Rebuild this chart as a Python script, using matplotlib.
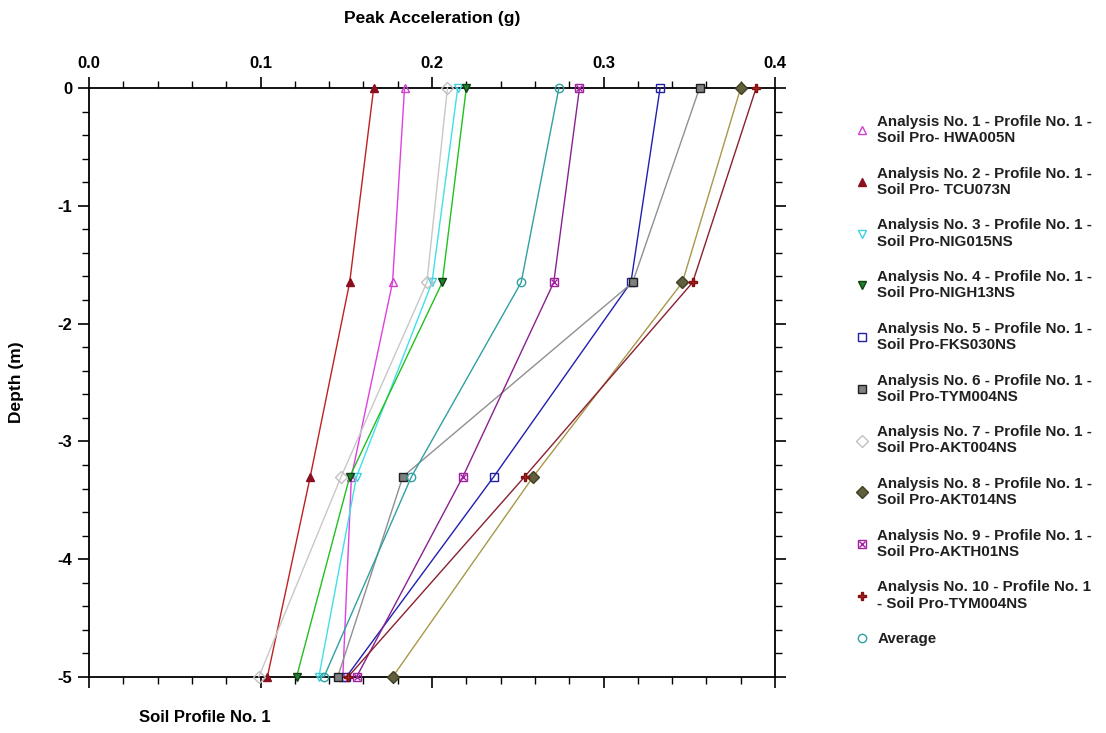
import numpy as np
import matplotlib
matplotlib.use("Agg")
import matplotlib.pyplot as plt
from matplotlib.ticker import MultipleLocator
from matplotlib.legend_handler import HandlerTuple

plt.rcParams['font.family'] = ['Liberation Sans', 'DejaVu Sans']

# Depth of each sublayer top (m)
depth = [0.0, -1.65, -3.3, -5.0]

# Peak acceleration (g) per analysis, one value per depth
pga_a1 = [0.184, 0.177, 0.153, 0.148]
pga_a2 = [0.166, 0.152, 0.129, 0.104]
pga_a3 = [0.215, 0.200, 0.156, 0.134]
pga_a4 = [0.220, 0.206, 0.152, 0.121]
pga_a5 = [0.333, 0.316, 0.236, 0.150]
pga_a6 = [0.356, 0.317, 0.183, 0.145]
pga_a7 = [0.209, 0.197, 0.147, 0.099]
pga_a8 = [0.380, 0.346, 0.259, 0.177]
pga_a9 = [0.286, 0.271, 0.218, 0.156]
pga_a10 = [0.389, 0.352, 0.254, 0.151]
pga_avg = [0.274, 0.252, 0.188, 0.137]

labels = [
    "Analysis No. 1 - Profile No. 1 -\nSoil Pro- HWA005N",
    "Analysis No. 2 - Profile No. 1 -\nSoil Pro- TCU073N",
    "Analysis No. 3 - Profile No. 1 -\nSoil Pro-NIG015NS",
    "Analysis No. 4 - Profile No. 1 -\nSoil Pro-NIGH13NS",
    "Analysis No. 5 - Profile No. 1 -\nSoil Pro-FKS030NS",
    "Analysis No. 6 - Profile No. 1 -\nSoil Pro-TYM004NS",
    "Analysis No. 7 - Profile No. 1 -\nSoil Pro-AKT004NS",
    "Analysis No. 8 - Profile No. 1 -\nSoil Pro-AKT014NS",
    "Analysis No. 9 - Profile No. 1 -\nSoil Pro-AKTH01NS",
    "Analysis No. 10 - Profile No. 1\n- Soil Pro-TYM004NS",
    "Average",
]

series = [pga_a1, pga_a2, pga_a3, pga_a4, pga_a5, pga_a6,
          pga_a7, pga_a8, pga_a9, pga_a10, pga_avg]

# (line colour, marker, face colour, edge colour)
styles = [
    ("#e040e0", "^", "none", "#d040d0"),
    ("#c02020", "^", "#8a1020", "#8a1020"),
    ("#40e0e8", "v", "none", "#40d0e0"),
    ("#20c020", "v", "#208030", "#104010"),
    ("#2020b0", "s", "none", "#2020a0"),
    ("#909090", "s", "#808080", "#202020"),
    ("#c8c8c8", "D", "none", "#c0c0c0"),
    ("#a89848", "D", "#606040", "#404020"),
    ("#8a2090", "s", "none", "#a020a0"),
    ("#8a2030", "P", "#b02020", "#801010"),
    ("#30a0a0", "o", "none", "#30a0a0"),
]

fig = plt.figure(figsize=(11.06, 7.33), dpi=100)
ax = fig.add_axes([89 / 1106, 1 - 677 / 733, 686 / 1106, 589 / 733])

handles = []
for i, (vals, (lc, mk, fc, ec)) in enumerate(zip(series, styles)):
    h, = ax.plot(vals, depth, color=lc, linewidth=1.0, marker=mk, markersize=6,
                 markerfacecolor=fc, markeredgecolor=ec, markeredgewidth=1.0,
                 clip_on=False, zorder=3)
    if i == 8:
        # cross inside the square marker
        hx, = ax.plot(vals, depth, linestyle="none", marker="x", markersize=4.5,
                      markeredgecolor=ec, markeredgewidth=1.0, clip_on=False, zorder=4)
        handles.append((h, hx))
    else:
        handles.append(h)

ax.set_xlim(0.0, 0.4)
ax.set_ylim(-5, 0)
ax.xaxis.set_major_locator(MultipleLocator(0.1))
ax.xaxis.set_minor_locator(MultipleLocator(0.02))
ax.yaxis.set_major_locator(MultipleLocator(1))
ax.yaxis.set_minor_locator(MultipleLocator(0.2))
ax.xaxis.set_major_formatter(plt.FormatStrFormatter("%.1f"))
ax.yaxis.set_major_formatter(plt.FormatStrFormatter("%d"))

ax.tick_params(axis="x", which="both", direction="out", top=True, bottom=True,
               labeltop=True, labelbottom=False)
ax.tick_params(axis="y", which="both", direction="out", left=True, right=True)
ax.tick_params(which="major", length=8, width=1.2, labelsize=12, pad=4)
ax.tick_params(which="minor", length=5, width=1.0)
for t in ax.get_xticklabels() + ax.get_yticklabels():
    t.set_fontweight("bold")
for s in ax.spines.values():
    s.set_linewidth(1.3)

ax.xaxis.set_label_position("top")
ax.set_xlabel("Peak Acceleration (g)", fontsize=12.5, fontweight="bold", labelpad=24)
ax.set_ylabel("Depth (m)", fontsize=12.5, fontweight="bold", labelpad=24)

fig.text(205 / 1106, 1 - 718 / 733, "Soil Profile No. 1", fontsize=12,
         fontweight="bold", ha="center", va="center")

leg = fig.legend(handles, labels, loc="upper left",
                 bbox_to_anchor=(850 / 1106, 1 - 109 / 733),
                 frameon=False, fontsize=10.9, labelspacing=1.42,
                 handlelength=0.8, handletextpad=0.6, borderaxespad=0,
                 handler_map={tuple: HandlerTuple(ndivide=1)})
for line in leg.get_lines():
    line.set_linestyle("none")
for t in leg.get_texts():
    t.set_fontweight("bold")
    t.set_color("#202020")

fig.savefig("out.png", dpi=100)
